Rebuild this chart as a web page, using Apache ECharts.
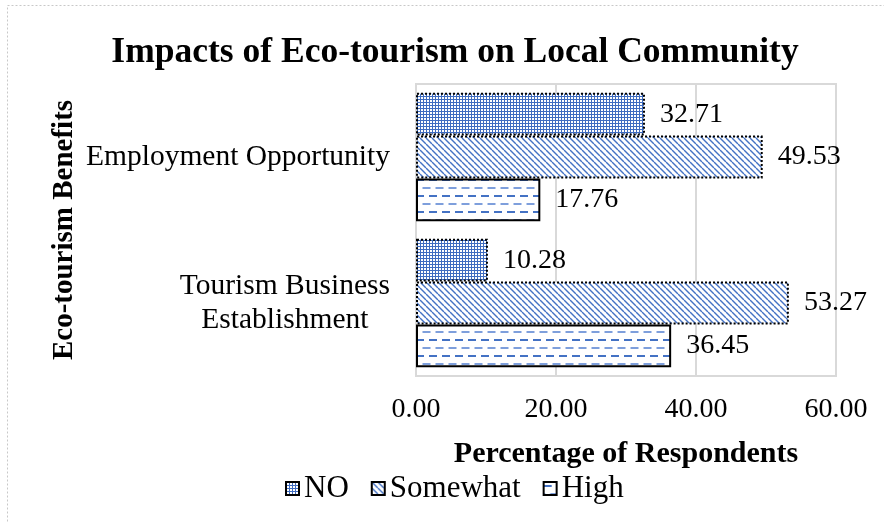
<!DOCTYPE html>
<html>
<head>
<meta charset="utf-8">
<script src="https://cdn.jsdelivr.net/npm/echarts@6/dist/echarts.min.js"></script>
<style>
html,body{margin:0;padding:0;background:#fff;}
#chart{width:884px;height:523px;}
</style>
</head>
<body>
<div id="chart"></div>
<script>
// ---- data ----
var categories = ["Employment Opportunity", "Tourism Business Establishment"];
var seriesNames = ["NO", "Somewhat", "High"];
var noValues = [32.71, 10.28];
var somewhatValues = [49.53, 53.27];
var highValues = [17.76, 36.45];
var xTicks = [0, 20, 40, 60];

var FONT = "'Liberation Serif','Times New Roman',serif";
var BLUE = '#4472c4';

function makeCanvas(w, h, draw) {
  var c = document.createElement('canvas');
  c.width = w; c.height = h;
  var ctx = c.getContext('2d');
  ctx.fillStyle = '#fff';
  ctx.fillRect(0, 0, w, h);
  draw(ctx);
  return c;
}
// small grid pattern
var patNO = makeCanvas(3, 3, function (ctx) {
  ctx.fillStyle = '#3f6cc0';
  ctx.fillRect(0, 0, 3, 1);
  ctx.fillRect(0, 0, 1, 3);
});
// diagonal stripes
var patSW = makeCanvas(6, 6, function (ctx) {
  ctx.strokeStyle = BLUE;
  ctx.lineWidth = 1.4;
  [-6, 0, 6].forEach(function (k) {
    ctx.beginPath();
    ctx.moveTo(k, 0);
    ctx.lineTo(k + 6, 6);
    ctx.stroke();
  });
});
// horizontal dashes
var patHI = makeCanvas(13, 16, function (ctx) {
  ctx.fillStyle = BLUE;
  ctx.fillRect(0, 3, 8, 2);
  ctx.fillStyle = '#7e9fdc';
  ctx.fillRect(6.5, 11, 6.5, 2);
  ctx.fillRect(0, 11, 1.5, 2);
});

var chart = echarts.init(document.getElementById('chart'), null, {renderer: 'canvas'});

function labelCfg() {
  return {
    show: true,
    position: 'right',
    distance: 15,
    fontFamily: FONT,
    fontSize: 28,
    color: '#000',
    formatter: function (p) { return p.value.toFixed(2); }
  };
}

var option = {
  backgroundColor: '#fff',
  animation: false,
  title: {
    text: 'Impacts of Eco-tourism on Local Community',
    left: 450,
    textAlign: 'center',
    top: 30,
    textStyle: {fontFamily: FONT, fontSize: 35.5, fontWeight: 'bold', color: '#000'}
  },
  graphic: [{
    type: 'rect',
    shape: {x: 7.5, y: 5.5, width: 900, height: 540},
    style: {fill: 'none', stroke: '#c8c8c8', lineWidth: 1, lineDash: [2, 2]},
    silent: true, z: -1
  }],
  legend: {
    data: seriesNames,
    left: 280,
    top: 468,
    icon: 'rect',
    itemWidth: 13,
    itemHeight: 13,
    itemGap: 22,
    textStyle: {fontFamily: FONT, fontSize: 31, color: '#000'}
  },
  grid: {
    left: 416, right: 48, top: 84, bottom: 147,
    show: true, borderColor: '#d9d9d9', borderWidth: 2, containLabel: false
  },
  xAxis: {
    type: 'value',
    min: xTicks[0],
    max: xTicks[xTicks.length - 1],
    interval: xTicks[1] - xTicks[0],
    name: 'Percentage of Respondents',
    nameLocation: 'middle',
    nameGap: 63,
    nameTextStyle: {fontFamily: FONT, fontSize: 30, fontWeight: 'bold', color: '#000'},
    axisLine: {show: false},
    axisTick: {show: false},
    splitLine: {show: true, lineStyle: {color: '#d9d9d9', width: 2}},
    axisLabel: {
      fontFamily: FONT, fontSize: 28, color: '#000', margin: 20,
      formatter: function (v) { return v.toFixed(2); }
    }
  },
  yAxis: {
    type: 'category',
    inverse: true,
    data: categories,
    name: 'Eco-tourism Benefits',
    nameLocation: 'middle',
    nameRotate: 90,
    nameGap: 337,
    nameTextStyle: {fontFamily: FONT, fontSize: 29, fontWeight: 'bold', color: '#000'},
    axisLine: {show: false},
    axisTick: {show: false},
    axisLabel: {
      margin: 26,
      fontFamily: FONT, fontSize: 29.5, color: '#000', lineHeight: 34,
      formatter: function (v) {
        if (v === 'Tourism Business Establishment') {
          return '{c|Tourism Business}\n{c|Establishment}';
        }
        return '{c|' + v + '}';
      },
      rich: {c: {align: 'center', fontFamily: FONT, fontSize: 29.5, color: '#000', lineHeight: 34}}
    }
  },
  series: [
    {
      name: seriesNames[0], type: 'bar', data: noValues,
      barGap: '0%', barCategoryGap: '12%',
      itemStyle: {color: {image: patNO, repeat: 'repeat'}, borderColor: '#000', borderWidth: 2, borderType: 'dotted'},
      label: labelCfg()
    },
    {
      name: seriesNames[1], type: 'bar', data: somewhatValues,
      barGap: '0%', barCategoryGap: '12%',
      itemStyle: {color: {image: patSW, repeat: 'repeat'}, borderColor: '#000', borderWidth: 2, borderType: 'dotted'},
      label: labelCfg()
    },
    {
      name: seriesNames[2], type: 'bar', data: highValues,
      barGap: '0%', barCategoryGap: '12%',
      itemStyle: {color: {image: patHI, repeat: 'repeat'}, borderColor: '#000', borderWidth: 2, borderType: 'solid'},
      label: labelCfg()
    }
  ]
};
chart.setOption(option);
</script>
</body>
</html>
